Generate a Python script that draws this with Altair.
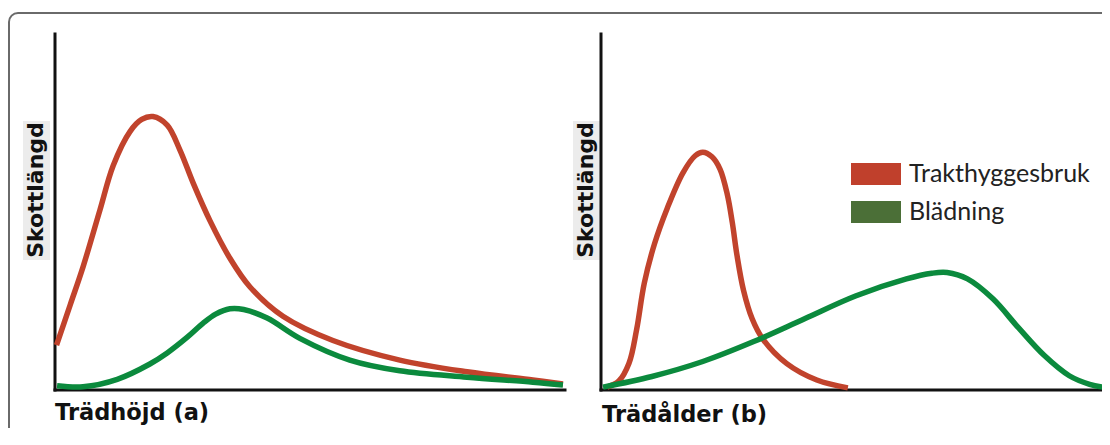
import altair as alt
import pandas as pd

# ---- data (units: 0-100 on both axes) ----
series_names = ["Trakthyggesbruk", "Blädning"]

# Panel (a): Trädhöjd
a_red_x = [0.3, 3.0, 5.5, 8.8, 11.4, 14.7, 17.0, 19.2, 22.0, 24.5, 27.1, 30.4, 34.3, 38.2, 44.7, 54.5, 67.6, 80.8, 93.7, 99.6]
a_red_y = [12.6, 24.0, 34.6, 50.5, 63.0, 72.6, 76.0, 76.8, 74.4, 67.4, 58.1, 47.5, 37.0, 29.0, 20.7, 13.9, 8.4, 5.1, 2.8, 1.7]
a_green_x = [0.4, 5.5, 12.2, 18.6, 22.0, 26.0, 29.0, 31.5, 34.3, 37.0, 41.6, 48.0, 57.8, 67.6, 80.8, 93.7, 99.6]
a_green_y = [1.2, 0.9, 3.0, 7.3, 10.4, 14.9, 18.7, 21.3, 22.8, 22.6, 20.2, 14.5, 8.4, 5.4, 3.6, 2.2, 1.4]

# Panel (b): Trädålder
b_red_x = [1.2, 3.5, 5.5, 7.0, 8.5, 10.5, 13.0, 16.1, 18.5, 20.0, 21.8, 23.4, 24.8, 25.8, 26.7, 28.0, 29.7, 31.8, 36.5, 42.4, 48.5]
b_red_y = [0.8, 2.5, 7.5, 17.0, 30.0, 41.0, 51.0, 61.0, 65.8, 66.8, 65.5, 62.0, 55.0, 47.0, 38.0, 28.0, 20.0, 14.3, 7.4, 2.8, 0.6]
b_green_x = [0.4, 10.0, 20.0, 30.0, 40.0, 50.0, 60.0, 65.0, 68.0, 72.0, 77.0, 82.0, 87.0, 92.0, 96.0, 99.4]
b_green_y = [0.8, 3.8, 8.0, 13.6, 20.0, 26.4, 31.2, 32.8, 33.0, 31.2, 25.6, 17.5, 9.8, 4.0, 1.6, 0.6]

# axis lines in data units: [x-axis, y-axis]
axis_x_start = [0, 0]
axis_x_end = [100, 0]
axis_y_start = [0, 0]
axis_y_end = [0, 100]

y_title = "Skottlängd"
x_titles = ["Trädhöjd (a)", "Trädålder (b)"]

# ---- styles ----
RED = "#C1432C"
GREEN = "#0B8A3D"
LEG_RED = "#C0402C"
LEG_GREEN = "#4B6F37"
TITLE_FONT = "DejaVu Sans"

left_x = alt.Scale(domain=[0, 100], range=[0, 510])
right_x = alt.Scale(domain=[0, 100], range=[546, 1055])
y_sc = alt.Scale(domain=[0, 100])


def line(xs, ys, color, xscale):
    df = pd.DataFrame({"x": xs, "y": ys})
    return alt.Chart(df).mark_line(color=color, strokeWidth=5.5, interpolate="catmull-rom").encode(
        x=alt.X("x:Q", scale=xscale, axis=None),
        y=alt.Y("y:Q", scale=y_sc, axis=None),
    )


def axes(xscale):
    df = pd.DataFrame({"x": axis_x_start, "x2": axis_x_end, "y": axis_y_start, "y2": axis_y_end})
    return alt.Chart(df).mark_rule(color="#111111", strokeWidth=3, strokeCap="square").encode(
        x=alt.X("x:Q", scale=xscale, axis=None),
        x2="x2:Q",
        y=alt.Y("y:Q", scale=y_sc, axis=None),
        y2="y2:Q",
    )


one = pd.DataFrame({"a": [0]})

border = alt.Chart(one).mark_rect(
    fillOpacity=0, stroke="#6a6a6a", strokeWidth=2, cornerRadius=9
).encode(x=alt.value(-46), x2=alt.value(1300), y=alt.value(-21), y2=alt.value(800))


def ytitle_bg(x0, x1):
    return alt.Chart(one).mark_rect(color="#ECECEC").encode(
        x=alt.value(x0), x2=alt.value(x1), y=alt.value(87), y2=alt.value(226)
    )


def ytitle(xc):
    return alt.Chart(pd.DataFrame({"t": [y_title]})).mark_text(
        font=TITLE_FONT, fontWeight="bold", fontSize=22, angle=270,
        align="center", baseline="middle", color="#111111"
    ).encode(text="t:N", x=alt.value(xc), y=alt.value(156))


def xtitle(txt, x0, yb):
    return alt.Chart(pd.DataFrame({"t": [txt]})).mark_text(
        font=TITLE_FONT, fontWeight="bold", fontSize=22.5,
        align="left", baseline="alphabetic", color="#111111"
    ).encode(text="t:N", x=alt.value(x0), y=alt.value(yb))


legend_layer = alt.Chart(pd.DataFrame({"series": series_names})).mark_point(
    filled=True, opacity=0
).encode(
    x=alt.value(0),
    y=alt.value(0),
    fill=alt.Fill(
        "series:N",
        scale=alt.Scale(domain=series_names, range=[LEG_RED, LEG_GREEN]),
        legend=alt.Legend(
            title=None,
            orient="none",
            legendX=796,
            legendY=115,
            padding=0,
            symbolType="M-1,-0.44H1V0.44H-1Z",
            symbolSize=2500,
            symbolOpacity=1,
            symbolStrokeWidth=0,
            labelFont="Lato",
            labelFontSize=25,
            labelColor="#222222",
            labelOffset=8,
            labelLimit=0,
            rowPadding=-20,
        ),
    ),
)

chart = alt.layer(
    border,
    ytitle_bg(-32, -5),
    ytitle_bg(518, 545),
    axes(left_x),
    line(a_red_x, a_red_y, RED, left_x),
    line(a_green_x, a_green_y, GREEN, left_x),
    axes(right_x),
    line(b_red_x, b_red_y, RED, right_x),
    line(b_green_x, b_green_y, GREEN, right_x),
    ytitle(-19),
    ytitle(531),
    xtitle(x_titles[0], 0, 386),
    xtitle(x_titles[1], 547, 388),
    legend_layer,
).resolve_scale(x="independent").properties(
    width=1047,
    height=356,
    autosize=alt.AutoSizeParams(type="none"),
    padding={"left": 47, "top": 26, "right": 0, "bottom": 38},
).configure_view(stroke=None)

chart.save("out.html", embed_options={"renderer": "svg", "actions": False})
